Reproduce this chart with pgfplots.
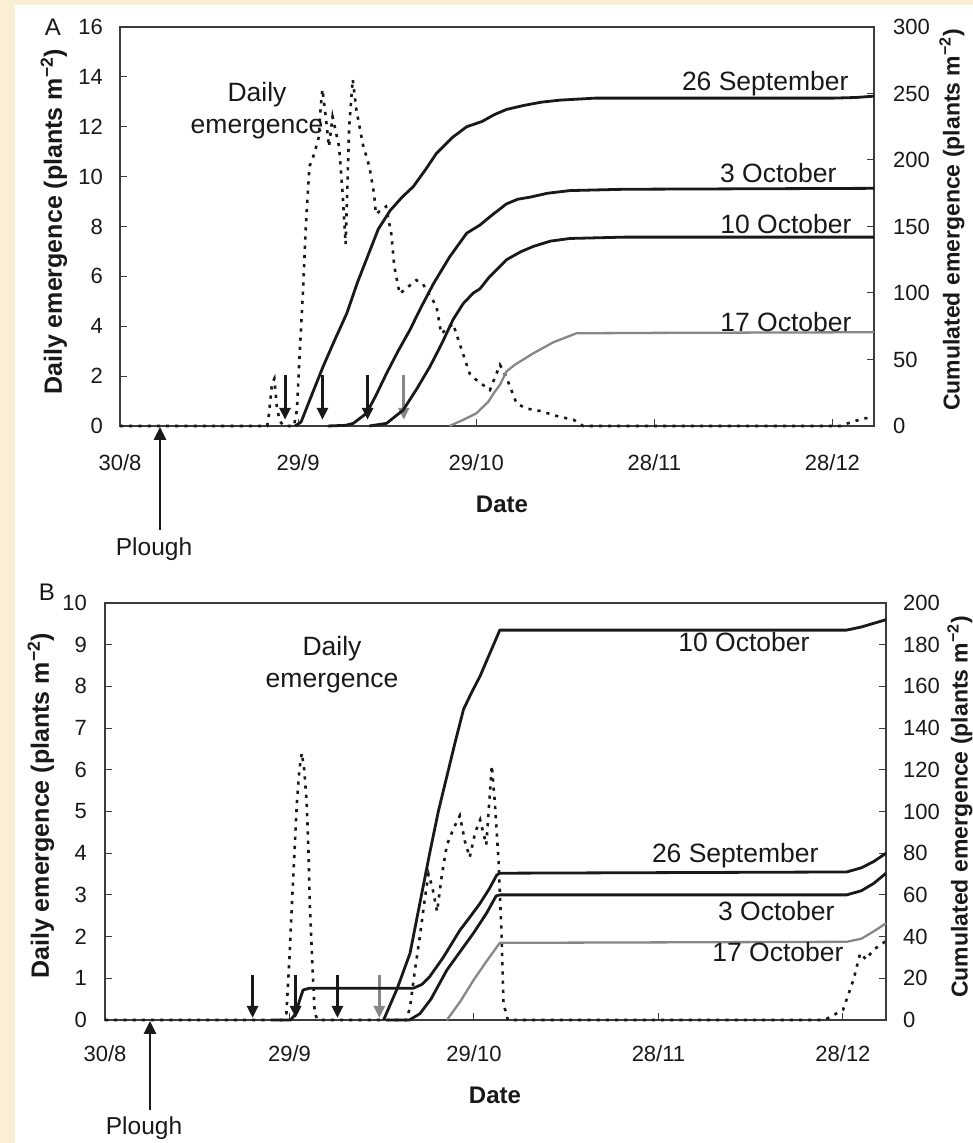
\documentclass[border=0pt]{standalone}
\usepackage{fontspec}
\setmainfont{Liberation Sans}
\usepackage{pgfplots}
\usepackage{pgfplotstable}
\pgfplotsset{compat=1.18}
\usetikzlibrary{arrows.meta}

\definecolor{paper}{RGB}{250,239,210}
\definecolor{ink}{RGB}{25,25,25}
\definecolor{framec}{RGB}{60,60,60}
\definecolor{late}{RGB}{135,135,135}

% ---------- Panel A: daily emergence (plants m^-2), day 0 = 30/8 ----------
\pgfplotstableread{
day val
0 0
24.8 0
25.1 0.5
25.6 1.7
26.0 1.9
26.4 0.8
26.9 0.2
27.6 0
29.3 0
29.8 0.64
30.2 2.6
30.8 5.3
31.3 8.0
31.9 10.4
32.7 10.9
33.5 11.6
33.8 12.8
34.1 13.5
34.7 12.3
35.2 11.2
35.8 12.4
36.9 11.2
37.5 9.3
38.0 7.3
38.3 9.6
38.6 12.0
39.2 13.9
39.8 12.7
40.9 11.3
42.0 10.4
42.8 9.3
43.1 8.5
44.8 8.8
45.7 7.7
46.2 6.4
47.1 5.3
49.9 5.85
51.0 5.7
53.3 4.8
54.1 3.7
56.1 4.1
57.2 3.3
58.9 2.1
60.0 1.85
62.3 1.44
64.0 2.45
65.0 2.0
66.8 0.9
68.5 0.7
70.8 0.6
74.0 0.37
76.4 0.25
78.0 0
121.5 0
122.5 0.1
125.2 0.3
127 0.35
}\dailyA

% Panel A: cumulated emergence for each sowing date
\pgfplotstableread{
day val
29.5 0
30.5 3
32.0 20
34.2 44.6
36.0 63
38.2 84.7
40.0 108
42.1 132
43.5 148
45.5 162
47.5 172
49.4 180
51.5 193
53.3 205
56.0 217
58.4 225
61.0 229
63.0 234
65.1 238
68.0 241
71.0 243.5
74.1 245
80.0 246.5
120 246.5
124 247
127 248
}\cumAsepA

\pgfplotstableread{
day val
35.0 0
38.0 0.5
39.3 2
41.5 9.5
43.0 22
44.9 39.6
46.8 56
48.8 72
50.8 90
52.8 107
55.5 127
58.4 145
60.6 151
62.5 158
65.1 167
67.0 170.5
69.0 172
72.0 175
75.8 177
85.0 178
127 178.7
}\cumAoctC

\pgfplotstableread{
day val
42.0 0
44.9 2
47.7 12
50.0 28
52.2 44.6
54.2 62
56.1 80
57.8 92
59.5 100
60.6 103
62.2 112
64.0 120
65.1 125
67.5 131
69.6 135
72.5 139
75.8 141
85.0 142
127 142
}\cumAoctJ

\pgfplotstableread{
day val
55.5 0
58.0 5
60.0 9.5
62.0 18
63.0 25
64.0 31
65.1 41
66.5 46
69.6 54.6
73.0 63
76.9 69.7
90.0 70
127 70.5
}\cumAoctQ

% ---------- Panel B ----------
\pgfplotstableread{
day val
0 0
28.8 0
29.5 0.16
30.0 1.5
30.4 2.8
30.8 4.0
31.2 5.2
31.6 6.0
32.0 6.4
32.4 6.0
32.8 5.2
33.1 4.0
33.3 2.8
33.7 1.4
34.1 0.16
34.6 0
49.0 0
49.6 0.3
50.4 1.2
51.2 2.0
52.0 2.9
52.6 3.5
53.2 3.2
54.0 2.6
54.8 3.5
55.6 4.2
56.7 4.6
57.7 4.9
58.5 4.3
59.3 3.9
60.2 4.5
61.0 4.8
62.0 4.2
62.9 6.1
63.4 5.2
64.0 3.8
64.5 2.0
64.8 0.4
65.5 0
117.0 0
120.0 0.24
121.7 0.96
122.8 1.6
123.8 1.45
124.9 1.68
126.5 1.84
127 1.9
}\dailyB

\pgfplotstableread{
day val
27.5 0
30.2 0
31.0 3
31.6 9
32.2 14.4
33.2 15.2
50.1 15.2
51.5 17
52.8 20.8
55.0 30
57.7 43
59.5 50
61.0 56
62.5 63
63.7 69.5
64.2 70.4
120.6 71
123.0 73
125.0 76
127 80
}\cumBsepA

\pgfplotstableread{
day val
46.0 0
49.5 0
51.2 3
53.0 10
55.6 24
57.8 33
59.9 41.6
62.0 51
63.6 59.5
64.2 60
120.6 60
123.0 62
125.0 65.5
127 70.4
}\cumBoctC

\pgfplotstableread{
day val
45.3 0
47.5 15
49.6 32
51.2 56
52.8 80
54.2 100
55.6 117
57.0 134
58.3 149
59.6 157
61.0 165
62.6 176
64.2 187
120.6 187
123.0 188.5
127 192
}\cumBoctJ

\pgfplotstableread{
day val
55.6 0
57.8 9
59.9 19
62.0 28
64.2 37
120.6 37.5
123.0 39
125.0 42.5
127 46.4
}\cumBoctQ

\pgfplotsset{
  panel/.style={
    anchor=south west, scale only axis, clip=false,
    xmin=0, xmax=127,
    xtick={0,30,60,90,120},
    xticklabels={30/8,29/9,29/10,28/11,28/12},
    tick align=inside, major tick length=7pt,
    axis line style={framec, line width=1.3pt},
    every tick/.append style={framec, line width=1pt},
    /pgf/number format/assume math mode=true,
    tick label style={font=\fontsize{22}{26}\selectfont, text=ink, inner sep=0pt},
  },
}
\tikzset{
  daily/.style={ink, line width=2.6pt, dash pattern=on 3.2pt off 6pt},
  cum/.style={ink, line width=2.8pt, line join=round},
  cumlate/.style={late, line width=2.3pt, line join=round},
  sow/.style={ink, line width=2.9pt, -{Triangle[width=11pt,length=12pt]}},
  sowlate/.style={late, line width=2.6pt, -{Triangle[width=11pt,length=12pt]}},
}

\newcommand{\ann}{\fontsize{26.5}{32}\selectfont}
\newcommand{\ylab}{\fontsize{25}{30}\selectfont\bfseries}
\newcommand{\ylabr}{\fontsize{23}{28}\selectfont\bfseries}

\begin{document}
\begin{tikzpicture}
\fill[paper] (0pt,0pt) rectangle (973pt,1143pt);
\fill[white] (15pt,0pt) rectangle (973pt,1138pt);

% ===== Panel A =====
\begin{axis}[panel, at={(120pt,717pt)}, width=754pt, height=399pt,
  ymin=0, ymax=16, ytick={0,2,...,16}, ytick pos=left, xtick pos=left,
  yticklabel style={anchor=east, xshift=-17pt},
  xticklabel style={anchor=north, yshift=-28pt}]
  \addplot[daily] table[x=day, y=val] {\dailyA};
  \draw[sow] (axis cs:27.8,2.05) -- (axis cs:27.8,0.25);
  \draw[sow] (axis cs:34.1,2.05) -- (axis cs:34.1,0.25);
  \draw[sow] (axis cs:41.7,2.05) -- (axis cs:41.7,0.25);
  \draw[sowlate] (axis cs:47.8,2.05) -- (axis cs:47.8,0.25);
\end{axis}
\begin{axis}[panel, at={(120pt,717pt)}, width=754pt, height=399pt,
  ymin=0, ymax=300, ytick={0,50,...,300},
  axis y line*=right, hide x axis,
  yticklabel style={anchor=west, xshift=19pt}]
  \addplot[cumlate] table[x=day, y=val] {\cumAoctQ};
  \addplot[cum] table[x=day, y=val] {\cumAsepA};
  \addplot[cum] table[x=day, y=val] {\cumAoctC};
  \addplot[cum] table[x=day, y=val] {\cumAoctJ};
\end{axis}

\node[font=\fontsize{24}{28}\selectfont, text=ink] at (53pt,1116pt) {A};
\node[rotate=90, text=ink, font=\ylab] at (54pt,921pt) {Daily emergence (plants m\textsuperscript{−2})};
\node[rotate=90, text=ink, font=\ylabr] at (952pt,923pt) {Cumulated emergence (plants m\textsuperscript{−2})};
\node[text=ink, font=\fontsize{24}{28}\selectfont\bfseries] at (502pt,639pt) {Date};
\draw[ink, line width=2.8pt, -{Triangle[width=12pt,length=13pt]}] (160pt,613pt) -- (160pt,716pt);
\node[text=ink, font=\fontsize{24.5}{28}\selectfont] at (154pt,594pt) {Plough};
\node[text=ink, font=\ann, align=center] at (257pt,1032pt) {Daily\\emergence};
\node[text=ink, font=\ann, anchor=base east] at (852pt,1052pt) {26 September};
\node[text=ink, font=\ann, anchor=base east] at (840pt,960pt) {3 October};
\node[text=ink, font=\ann, anchor=base east] at (855pt,909pt) {10 October};
\node[text=ink, font=\ann, anchor=base east] at (855pt,811pt) {17 October};

% ===== Panel B =====
\begin{axis}[panel, at={(105pt,123pt)}, width=781pt, height=417pt,
  ymin=0, ymax=10, ytick={0,1,...,10}, ytick pos=left, xtick pos=left,
  yticklabel style={anchor=east, xshift=-18pt},
  xticklabel style={anchor=north, yshift=-25pt}]
  \addplot[daily] table[x=day, y=val] {\dailyB};
  \draw[sow] (axis cs:24.0,1.08) -- (axis cs:24.0,0.05);
  \draw[sow] (axis cs:31.0,1.08) -- (axis cs:31.0,0.05);
  \draw[sow] (axis cs:37.8,1.08) -- (axis cs:37.8,0.05);
  \draw[sowlate] (axis cs:44.6,1.08) -- (axis cs:44.6,0.05);
\end{axis}
\begin{axis}[panel, at={(105pt,123pt)}, width=781pt, height=417pt,
  ymin=0, ymax=200, ytick={0,20,...,200},
  axis y line*=right, hide x axis,
  yticklabel style={anchor=west, xshift=17pt}]
  \addplot[cumlate] table[x=day, y=val] {\cumBoctQ};
  \addplot[cum] table[x=day, y=val] {\cumBsepA};
  \addplot[cum] table[x=day, y=val] {\cumBoctC};
  \addplot[cum] table[x=day, y=val] {\cumBoctJ};
\end{axis}

\node[font=\fontsize{24}{28}\selectfont, text=ink] at (47pt,551pt) {B};
\node[rotate=90, text=ink, font=\ylab] at (41pt,337pt) {Daily emergence (plants m\textsuperscript{−2})};
\node[rotate=90, text=ink, font=\ylabr] at (960pt,336pt) {Cumulated emergence (plants m\textsuperscript{−2})};
\node[text=ink, font=\fontsize{24}{28}\selectfont\bfseries] at (495pt,48pt) {Date};
\draw[ink, line width=2.8pt, -{Triangle[width=12pt,length=13pt]}] (150pt,33pt) -- (150pt,122pt);
\node[text=ink, font=\fontsize{24.5}{28}\selectfont] at (144pt,15pt) {Plough};
\node[text=ink, font=\ann, align=center] at (332pt,478pt) {Daily\\emergence};
\node[text=ink, font=\ann, anchor=base east] at (813pt,491pt) {10 October};
\node[text=ink, font=\ann, anchor=base east] at (822pt,280pt) {26 September};
\node[text=ink, font=\ann, anchor=base east] at (838pt,222pt) {3 October};
\node[text=ink, font=\ann, anchor=base east] at (847pt,181pt) {17 October};

\pgfresetboundingbox
\useasboundingbox (0pt,0pt) rectangle (973pt,1143pt);
\end{tikzpicture}
\end{document}
